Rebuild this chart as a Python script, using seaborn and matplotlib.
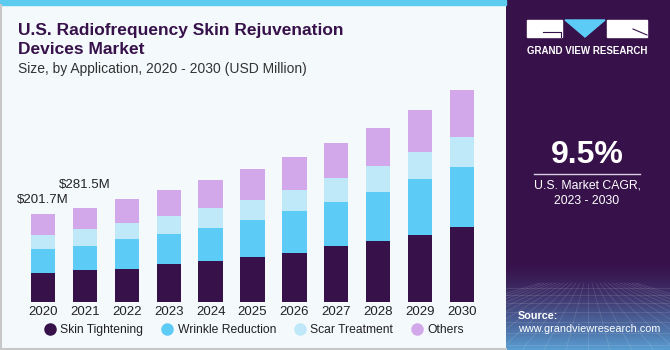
import numpy as np
import pandas as pd
import matplotlib
matplotlib.use("Agg")
import matplotlib.pyplot as plt
from matplotlib.patches import Rectangle, Polygon
from matplotlib.lines import Line2D
import seaborn as sns

# data (USD Million)
years = ["2020", "2021", "2022", "2023", "2024", "2025", "2026", "2027", "2028", "2029", "2030"]
skin_tightening = [66.2, 72.4, 76.1, 86.8, 94.3, 102.8, 111.9, 127.2, 139.3, 153.7, 170.6]
wrinkle_reduction = [54.0, 56.4, 66.9, 68.5, 75.4, 85.2, 96.6, 101.2, 111.2, 127.2, 138.6]
scar_treatment = [32.0, 37.2, 36.5, 41.8, 45.7, 45.0, 47.3, 54.1, 59.4, 61.7, 67.8]
others = [49.5, 49.6, 54.8, 57.8, 64.0, 71.5, 76.1, 81.5, 88.4, 96.6, 106.7]
segments = ["Skin Tightening", "Wrinkle Reduction", "Scar Treatment", "Others"]
colors = ["#37114a", "#5ccbf5", "#bfe9f9", "#d3a8ea"]
value_labels = {"2020": "$201.7M", "2021": "$281.5M"}

df = pd.DataFrame({"year": years, "Skin Tightening": skin_tightening,
                   "Wrinkle Reduction": wrinkle_reduction,
                   "Scar Treatment": scar_treatment, "Others": others})

plt.rcParams["font.family"] = ["Liberation Sans", "DejaVu Sans"]
W, H = 670, 350
fig = plt.figure(figsize=(6.7, 3.5), dpi=100)
fig.patch.set_facecolor("#f4f9fc")

def fx(x):
    return x / W

def fy(y):
    return 1 - y / H

# top stripe + frame
fig.add_artist(Rectangle((0, fy(5)), fx(506), 5 / H, color="#5ccbf0", transform=fig.transFigure))
fig.add_artist(Line2D([fx(1), fx(1)], [fy(348), fy(5)], color="#c8c8c8", lw=1.5, transform=fig.transFigure))
fig.add_artist(Line2D([fx(1), fx(506)], [fy(348.5), fy(348.5)], color="#c8c8c8", lw=1.5, transform=fig.transFigure))

# stacked bars
ax = fig.add_axes([fx(13.7), fy(302), fx(491.3 - 13.7), 242 / H])
ax.set_facecolor("none")
cum = df[segments].cumsum(axis=1)
for seg, col in reversed(list(zip(segments, colors))):
    sns.barplot(data=cum.assign(year=df["year"]), x="year", y=seg, color=col,
                width=0.58, saturation=1, ax=ax, linewidth=0)
ax.set_xlim(-0.7, 10.7)
ax.set_ylim(0, 242 * 201.7 / 88.3)
ax.set_xlabel("")
ax.set_ylabel("")
ax.set_yticks([])
ax.tick_params(axis="x", length=0, pad=3, labelsize=9.5, labelcolor="#222222")
for s in ax.spines.values():
    s.set_visible(False)

totals = cum["Others"].tolist()
offsets = {"2020": 14, "2021": 23}
for i, yr in enumerate(years):
    if yr in value_labels:
        ax.annotate(value_labels[yr], (i, totals[i]), xytext=(0, offsets[yr]),
                    textcoords="offset pixels", ha="center", va="center",
                    fontsize=9.5, color="#222222")

# titles
fig.text(fx(18), fy(35), "U.S. Radiofrequency Skin Rejuvenation",
         fontsize=12.5, fontweight="bold", color="#37114a", va="baseline")
fig.text(fx(18), fy(54), "Devices Market",
         fontsize=12.5, fontweight="bold", color="#37114a", va="baseline")
fig.text(fx(18), fy(72.5), "Size, by Application, 2020 - 2030 (USD Million)",
         fontsize=10, color="#333333", va="baseline")

# legend
handles = [Line2D([], [], marker="o", ls="", markersize=8, markerfacecolor=c,
                  markeredgecolor=c) for c in colors]
fig.legend(handles, segments, loc="center", bbox_to_anchor=(fx(254), fy(330)),
           ncol=4, frameon=False, fontsize=8.7, handletextpad=0.35, columnspacing=1.5,
           handlelength=1.0, labelcolor="#222222")

# right panel
pax = fig.add_axes([fx(506), 0, fx(670 - 506), 1])
pax.set_xlim(506, 670)
pax.set_ylim(350, 0)
pax.axis("off")
grad = np.ones((350, 1, 3)) * np.array([0x37, 0x11, 0x4a]) / 255
bottom = np.array([0x5a, 0xa0, 0xd4]) / 255
for r in range(262, 350):
    t = ((r - 262) / 88) ** 1.4
    grad[r, 0] = grad[0, 0] * (1 - t) + bottom * t
pax.imshow(grad, extent=(506, 670, 350, 0), aspect="auto")
# faint perspective grid
for k in range(-12, 13):
    pax.plot([588 + k * 4, 588 + k * 22], [283, 350], color="white", lw=0.4, alpha=0.18)
for yy in [288, 295, 303, 312, 322, 333, 345]:
    pax.plot([506, 670], [yy, yy], color="white", lw=0.4, alpha=0.18)

# logo
pax.add_patch(Rectangle((527, 20), 35, 17, color="white"))
pax.add_patch(Polygon([[565, 20], [605, 20], [585, 37]], color="#5ccbf5"))
pax.add_patch(Rectangle((607, 20), 40, 17, color="white"))
pax.plot([543, 561, 561], [31.5, 31.5, 37], color="#37114a", lw=0.8)
pax.plot([633, 647], [29, 35], color="#37114a", lw=0.8)
pax.text(587.5, 51, "GRAND VIEW RESEARCH", color="white", fontsize=7,
         fontweight="bold", ha="center", va="center")

pax.text(587, 155, "9.5%", color="white", fontsize=23, fontweight="bold",
         ha="center", va="center")
pax.plot([534, 640], [173.5, 173.5], color="#d8d0e0", lw=1)
pax.text(587, 193, "U.S. Market CAGR,\n2023 - 2030", color="white", fontsize=8.8,
         ha="center", va="center", linespacing=1.35)
pax.text(518, 316, "Source:", color="white", fontsize=7.8, fontweight="bold",
         va="center")
pax.text(518, 329.5, "www.grandviewresearch.com", color="white", fontsize=7.8,
         va="center")

fig.savefig("out.png", dpi=100, facecolor=fig.get_facecolor())
